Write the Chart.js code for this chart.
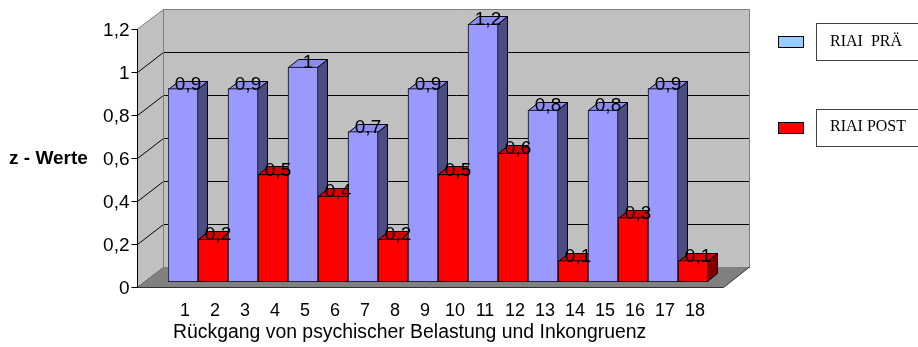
<!DOCTYPE html>
<html>
<head>
<meta charset="utf-8">
<script src="https://cdn.jsdelivr.net/npm/chart.js@4/dist/chart.umd.min.js"></script>
<style>
  html, body { margin: 0; padding: 0; background: #ffffff; }
  canvas { display: block; }
</style>
</head>
<body>
<canvas id="chart" width="918" height="347"></canvas>
<script>
// Categories and series values
const categories = ['1', '2', '3', '4', '5', '6', '7', '8', '9', '10', '11', '12', '13', '14', '15', '16', '17', '18'];
const riaiPre  = [0.9, null, 0.9, null, 1.0, null, 0.7, null, 0.9, null, 1.2, null, 0.8, null, 0.8, null, 0.9, null];
const riaiPost = [null, 0.2, null, 0.5, null, 0.4, null, 0.2, null, 0.5, null, 0.6, null, 0.1, null, 0.3, null, 0.1];

// Axis ticks and texts
const yTickValues = [0, 0.2, 0.4, 0.6, 0.8, 1, 1.2];
const yTickLabels = ['0', '0,2', '0,4', '0,6', '0,8', '1', '1,2'];
const seriesLabels = ['RIAI  PRÄ', 'RIAI POST'];
const yAxisTitle = 'z - Werte';
const xAxisTitle = 'Rückgang von psychischer Belastung und Inkongruenz';

// Pseudo-3D geometry (offsets relative to the plane of the bar fronts)
const FRONT = { dx: -6.5, dy: 5 };    // front edge of floor / value axis
const BACK  = { dx: 19.5, dy: -15 };  // back wall
const DEPTH = { dx: 10, dy: -8 };     // depth of each column
const FLOOR_PAD_L = 24;
const FLOOR_PAD_R = 22;

const SANS = '"Liberation Sans", Arial, sans-serif';
const SERIF = '"Liberation Serif", "Times New Roman", serif';

function polygon(ctx, pts) {
  ctx.beginPath();
  ctx.moveTo(pts[0][0], pts[0][1]);
  for (let k = 1; k < pts.length; k++) ctx.lineTo(pts[k][0], pts[k][1]);
  ctx.closePath();
}
function segment(ctx, x1, y1, x2, y2, color) {
  ctx.beginPath();
  ctx.moveTo(x1, y1);
  ctx.lineTo(x2, y2);
  ctx.strokeStyle = color;
  ctx.stroke();
}
function fmt(v) { return String(v).replace('.', ','); }

// collect bar elements of all datasets, ordered left to right
function barsInOrder(chart) {
  const list = [];
  chart.data.datasets.forEach((ds, di) => {
    const meta = chart.getDatasetMeta(di);
    meta.data.forEach((el, i) => {
      if (ds.data[i] == null) return;
      const p = el.getProps(['x', 'y', 'base', 'width'], true);
      list.push({ i, ds, value: ds.data[i], x: p.x, y: p.y, base: p.base, width: p.width });
    });
  });
  list.sort((a, b) => a.i - b.i);
  return list;
}

const chart3d = {
  id: 'chart3d',
  beforeDatasetsDraw(chart) {
    const { ctx, chartArea: a, scales: { y } } = chart;
    const L = a.left - FLOOR_PAD_L, R = a.right + FLOOR_PAD_R;
    const y0 = y.getPixelForValue(y.min);
    const yTop = y.getPixelForValue(y.max);
    ctx.save();
    ctx.lineWidth = 1;

    // back wall
    ctx.fillStyle = '#c0c0c0';
    ctx.fillRect(L + BACK.dx, yTop + BACK.dy, R - L, y0 - yTop);
    // left side wall
    polygon(ctx, [[L + FRONT.dx, yTop + FRONT.dy], [L + BACK.dx, yTop + BACK.dy],
                  [L + BACK.dx, y0 + BACK.dy], [L + FRONT.dx, y0 + FRONT.dy]]);
    ctx.fill();

    // gridlines on back wall and side wall
    yTickValues.forEach(v => {
      if (v === y.max) return;
      const py = Math.round(y.getPixelForValue(v)) + 0.5;
      segment(ctx, L + BACK.dx, py + BACK.dy, R + BACK.dx, py + BACK.dy, '#000000');
      segment(ctx, L + FRONT.dx, py + FRONT.dy, L + BACK.dx, py + BACK.dy, '#000000');
    });

    // wall outlines
    const tY = Math.round(yTop + BACK.dy) + 0.5;
    ctx.strokeStyle = '#808080';
    ctx.beginPath();
    ctx.moveTo(L + FRONT.dx, yTop + FRONT.dy);
    ctx.lineTo(L + BACK.dx, tY);
    ctx.lineTo(R + BACK.dx, tY);
    ctx.lineTo(R + BACK.dx, y0 + BACK.dy);
    ctx.moveTo(L + BACK.dx, tY);
    ctx.lineTo(L + BACK.dx, y0 + BACK.dy);
    ctx.stroke();

    // floor
    const fy = Math.round(y0 + FRONT.dy) + 0.5;
    polygon(ctx, [[L + FRONT.dx, fy], [R + FRONT.dx, fy], [R + BACK.dx, y0 + BACK.dy], [L + BACK.dx, y0 + BACK.dy]]);
    ctx.fillStyle = '#808080';
    ctx.fill();
    ctx.strokeStyle = '#303030';
    ctx.beginPath();
    ctx.moveTo(L + FRONT.dx, fy);
    ctx.lineTo(R + FRONT.dx, fy);
    ctx.lineTo(R + BACK.dx, y0 + BACK.dy);
    ctx.stroke();

    // value axis on the front edge
    segment(ctx, L + FRONT.dx, yTop + FRONT.dy, L + FRONT.dx, fy, '#000000');
    ctx.fillStyle = '#000000';
    ctx.font = '19px ' + SANS;
    ctx.textAlign = 'right';
    ctx.textBaseline = 'middle';
    yTickValues.forEach((v, k) => {
      const py = Math.round(y.getPixelForValue(v) + FRONT.dy) + 0.5;
      segment(ctx, L + FRONT.dx - 6, py, L + FRONT.dx, py, '#000000');
      ctx.fillText(yTickLabels[k], L + FRONT.dx - 8, py + 1);
    });

    // side and top faces of the columns
    barsInOrder(chart).forEach(b => {
      const l = Math.round(b.x - b.width / 2) + 0.5;
      const r = Math.round(b.x + b.width / 2) - 0.5;
      const t = Math.round(b.y) + 0.5;
      const bt = Math.round(b.base) - 0.5;
      polygon(ctx, [[r, t], [r + DEPTH.dx, t + DEPTH.dy], [r + DEPTH.dx, bt + DEPTH.dy], [r, bt]]);
      ctx.fillStyle = b.ds.sideColor;
      ctx.fill();
      ctx.strokeStyle = '#000000';
      ctx.stroke();
      polygon(ctx, [[l, t], [r, t], [r + DEPTH.dx, t + DEPTH.dy], [l + DEPTH.dx, t + DEPTH.dy]]);
      ctx.fillStyle = b.ds.topColor;
      ctx.fill();
      ctx.stroke();
    });
    ctx.restore();
  },
  afterDatasetsDraw(chart) {
    const { ctx, scales: { x } } = chart;
    ctx.save();
    ctx.fillStyle = '#000000';

    // value labels above the columns
    ctx.font = '19px ' + SANS;
    ctx.textAlign = 'center';
    ctx.textBaseline = 'alphabetic';
    barsInOrder(chart).forEach(b => {
      ctx.fillText(fmt(b.value), b.x + DEPTH.dx / 2, b.y + 1);
    });

    // category labels
    ctx.font = '18px ' + SANS;
    categories.forEach((c, i) => {
      ctx.fillText(c, x.getPixelForValue(i) + 2, 316);
    });

    // axis titles
    ctx.textAlign = 'left';
    ctx.font = '19.4px ' + SANS;
    ctx.fillText(xAxisTitle, 173, 338);
    ctx.font = 'bold 19px ' + SANS;
    ctx.textBaseline = 'middle';
    ctx.fillText(yAxisTitle, 9, 159);

    // legend
    const rows = [{ sy: 36, by: 23, bh: 37, ty: 46 }, { sy: 122, by: 109, bh: 37, ty: 131 }];
    chart.data.datasets.forEach((ds, di) => {
      const row = rows[di];
      ctx.fillStyle = ds.legendColor;
      ctx.fillRect(778, row.sy, 26, 12);
      ctx.strokeStyle = '#000000';
      ctx.lineWidth = 1;
      ctx.strokeRect(778.5, row.sy + 0.5, 25, 11);
      ctx.fillStyle = '#ffffff';
      ctx.fillRect(816, row.by, 130, row.bh);
      ctx.strokeStyle = '#404040';
      ctx.strokeRect(816.5, row.by + 0.5, 130, row.bh);
      ctx.fillStyle = '#000000';
      ctx.font = '16px ' + SERIF;
      ctx.textAlign = 'left';
      ctx.textBaseline = 'alphabetic';
      ctx.fillText(ds.label, 830, row.ty);
    });
    ctx.restore();
  }
};

new Chart(document.getElementById('chart'), {
  type: 'bar',
  data: {
    labels: categories,
    datasets: [
      {
        label: seriesLabels[0],
        data: riaiPre,
        backgroundColor: '#9999ff',
        topColor: '#8c8cf0',
        sideColor: '#4c4c80',
        legendColor: '#99ccff',
        borderColor: '#000000',
        borderWidth: 1,
        borderSkipped: false,
        grouped: false,
        barPercentage: 1,
        categoryPercentage: 1
      },
      {
        label: seriesLabels[1],
        data: riaiPost,
        backgroundColor: '#ff0000',
        topColor: '#d40000',
        sideColor: '#800000',
        legendColor: '#ff0000',
        borderColor: '#000000',
        borderWidth: 1,
        borderSkipped: false,
        grouped: false,
        barPercentage: 1,
        categoryPercentage: 1
      }
    ]
  },
  options: {
    responsive: false,
    devicePixelRatio: 1,
    animation: false,
    layout: { padding: { left: 168, right: 210, top: 24, bottom: 65 } },
    plugins: { legend: { display: false }, tooltip: { enabled: false } },
    scales: {
      x: { type: 'category', offset: true, display: false },
      y: { type: 'linear', min: 0, max: 1.2, display: false }
    }
  },
  plugins: [chart3d]
});
</script>
</body>
</html>
